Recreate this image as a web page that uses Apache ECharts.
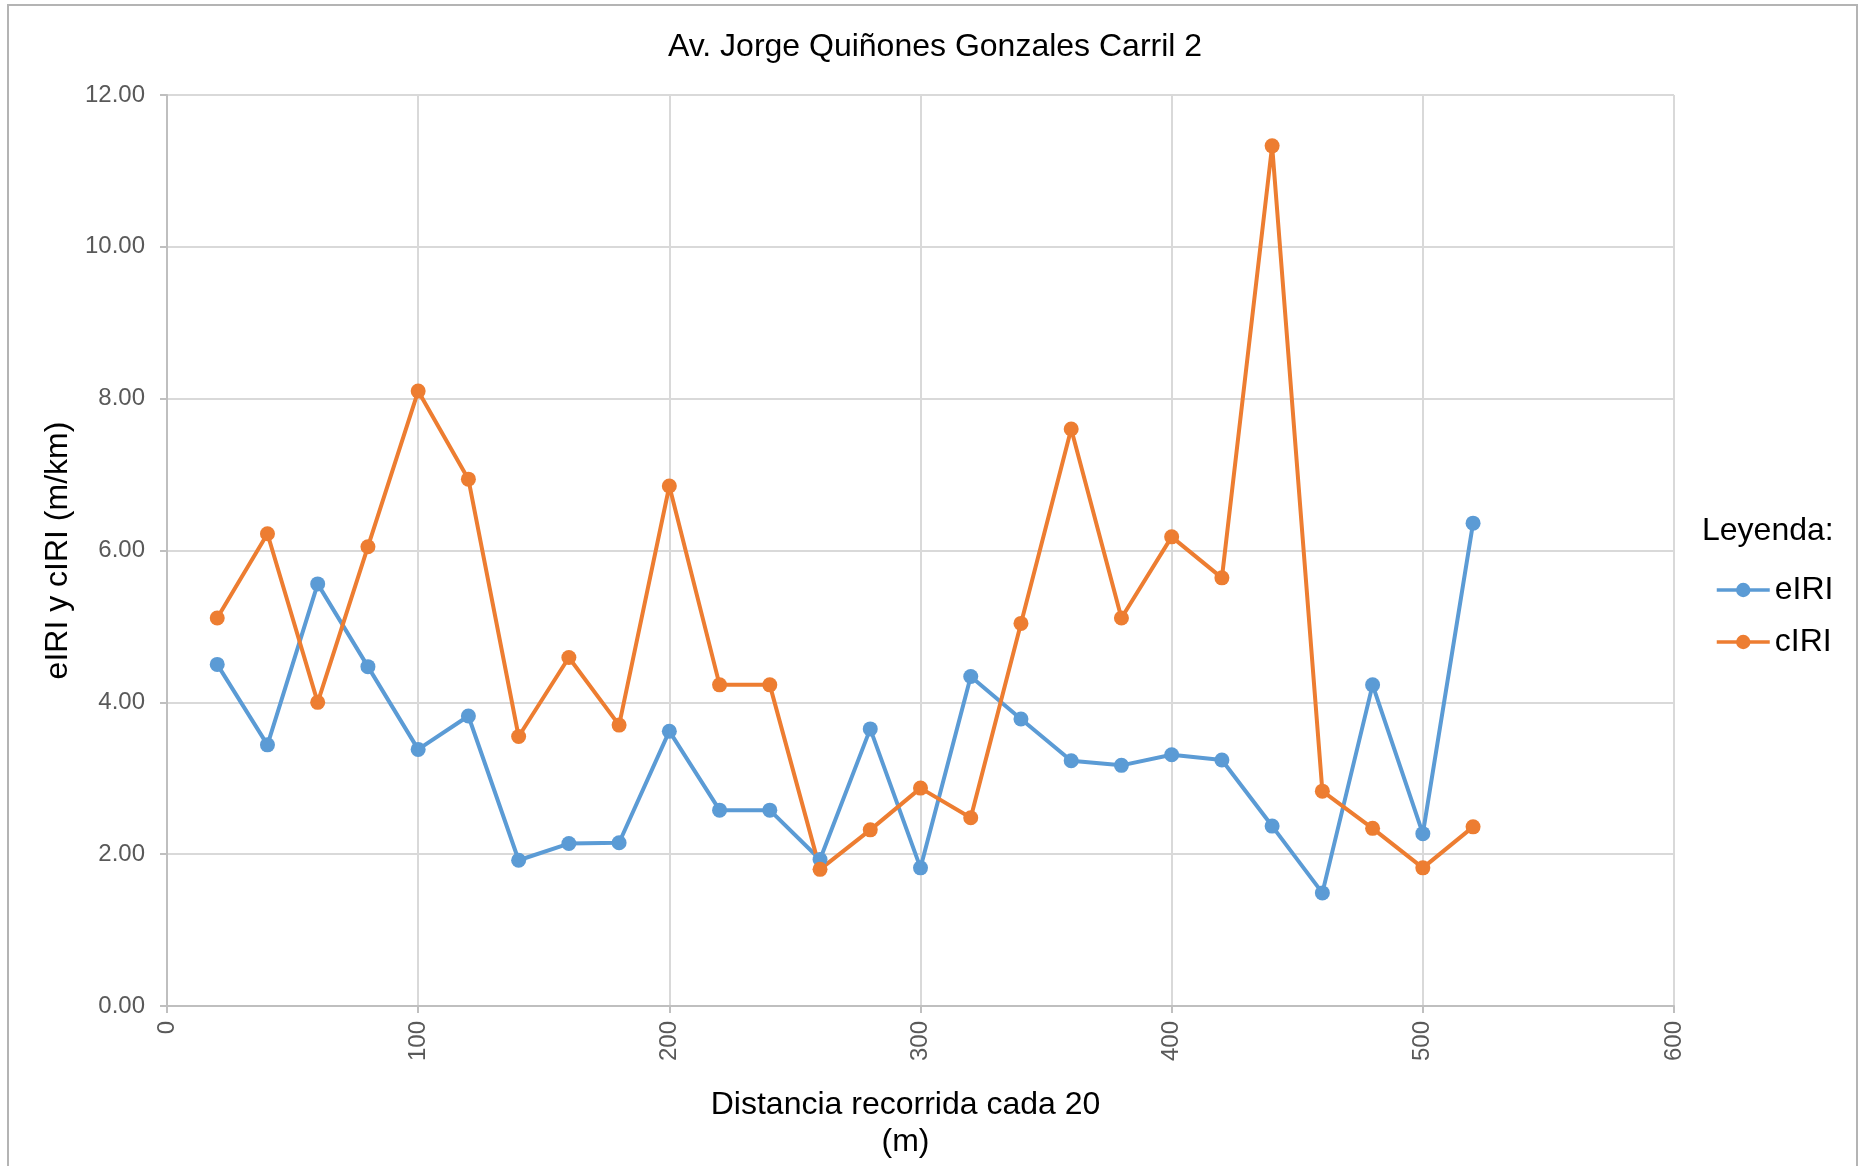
<!DOCTYPE html>
<html>
<head>
<meta charset="utf-8">
<title>Av. Jorge Quiñones Gonzales Carril 2</title>
<script src="https://cdn.jsdelivr.net/npm/echarts@6/dist/echarts.min.js"></script>
<style>
  html, body { margin: 0; padding: 0; background: #fff; }
  #chart { width: 1858px; height: 1166px; }
</style>
</head>
<body>
<div id="chart"></div>
<script>
// distancia recorrida (m)
const distancias = [20, 40, 60, 80, 100, 120, 140, 160, 180, 200, 220, 240, 260,
    280, 300, 320, 340, 360, 380, 400, 420, 440, 460, 480, 500, 520];
const eIRI = [4.50, 3.44, 5.56, 4.47, 3.38, 3.82, 1.92, 2.14, 2.15, 3.62, 2.58, 2.58, 1.93,
    3.65, 1.82, 4.34, 3.78, 3.23, 3.17, 3.31, 3.24, 2.37, 1.49, 4.23, 2.27, 6.36];
const cIRI = [5.11, 6.22, 4.00, 6.05, 8.10, 6.94, 3.55, 4.59, 3.70, 6.85, 4.23, 4.23, 1.80,
    2.32, 2.87, 2.48, 5.04, 7.60, 5.11, 6.18, 5.64, 11.33, 2.83, 2.34, 1.82, 2.36];

const fuente = '"Liberation Sans", Arial, sans-serif';

function pares (ys) {
    return distancias.map((x, i) => [x, ys[i]]);
}

const chart = echarts.init(document.getElementById('chart'));

chart.setOption({
    animation: false,
    backgroundColor: '#fff',
    textStyle: { fontFamily: fuente },
    title: [
        {
            text: 'Av. Jorge Quiñones Gonzales Carril 2',
            left: 930,
            top: 26,
            textAlign: 'center',
            textStyle: { fontSize: 32, fontWeight: 'normal', color: '#000', fontFamily: fuente, lineHeight: 32 }
        },
        {
            text: 'Leyenda:',
            left: 1702,
            top: 515,
            padding: 0,
            textStyle: { fontSize: 32, fontWeight: 'normal', color: '#000', fontFamily: fuente, lineHeight: 32 }
        }
    ],
    graphic: [
        {
            type: 'rect',
            silent: true,
            shape: { x: 8, y: 5, width: 1849, height: 1200 },
            style: { fill: 'none', stroke: '#b4b4b4', lineWidth: 2 }
        }
    ],
    legend: {
        orient: 'vertical',
        left: 1715,
        top: 574,
        itemWidth: 53,
        itemHeight: 18,
        itemGap: 20,
        padding: 0,
        lineStyle: { width: 3.5 },
        textStyle: { fontSize: 32, color: '#000', fontFamily: fuente, lineHeight: 32 },
        data: ['eIRI', 'cIRI']
    },
    grid: {
        left: 167,
        right: 184,
        top: 95,
        bottom: 155,
        containLabel: false
    },
    xAxis: {
        type: 'value',
        min: 0,
        max: 600,
        interval: 100,
        name: 'Distancia recorrida cada 20\n(m)',
        nameLocation: 'middle',
        nameGap: 81,
        nameTextStyle: { fontSize: 32, color: '#000', fontFamily: fuente, lineHeight: 37, padding: [0, 30, 0, 0] },
        axisLine: { show: true, onZero: false, lineStyle: { color: '#bfbfbf', width: 2 } },
        axisTick: { show: true, length: 7, lineStyle: { color: '#bfbfbf', width: 2 } },
        axisLabel: { rotate: 90, margin: 15, fontSize: 24, color: '#595959', fontFamily: fuente },
        splitLine: { show: true, lineStyle: { color: '#d9d9d9', width: 2 } }
    },
    yAxis: {
        type: 'value',
        min: 0,
        max: 12,
        interval: 2,
        name: 'eIRI y cIRI (m/km)',
        nameLocation: 'middle',
        nameGap: 87,
        nameTextStyle: { fontSize: 32, color: '#000', fontFamily: fuente },
        axisLine: { show: true, lineStyle: { color: '#bfbfbf', width: 2 } },
        axisTick: { show: true, length: 7, lineStyle: { color: '#bfbfbf', width: 2 } },
        axisLabel: {
            margin: 22,
            fontSize: 24,
            color: '#595959',
            fontFamily: fuente,
            formatter: v => v.toFixed(2)
        },
        splitLine: { show: true, lineStyle: { color: '#d9d9d9', width: 2 } }
    },
    series: [
        {
            name: 'eIRI',
            type: 'line',
            data: pares(eIRI),
            symbol: 'circle',
            symbolSize: 15,
            lineStyle: { color: '#5b9bd5', width: 4 },
            itemStyle: { color: '#5b9bd5' }
        },
        {
            name: 'cIRI',
            type: 'line',
            data: pares(cIRI),
            symbol: 'circle',
            symbolSize: 15,
            lineStyle: { color: '#ed7d31', width: 4 },
            itemStyle: { color: '#ed7d31' }
        }
    ]
});
</script>
</body>
</html>
